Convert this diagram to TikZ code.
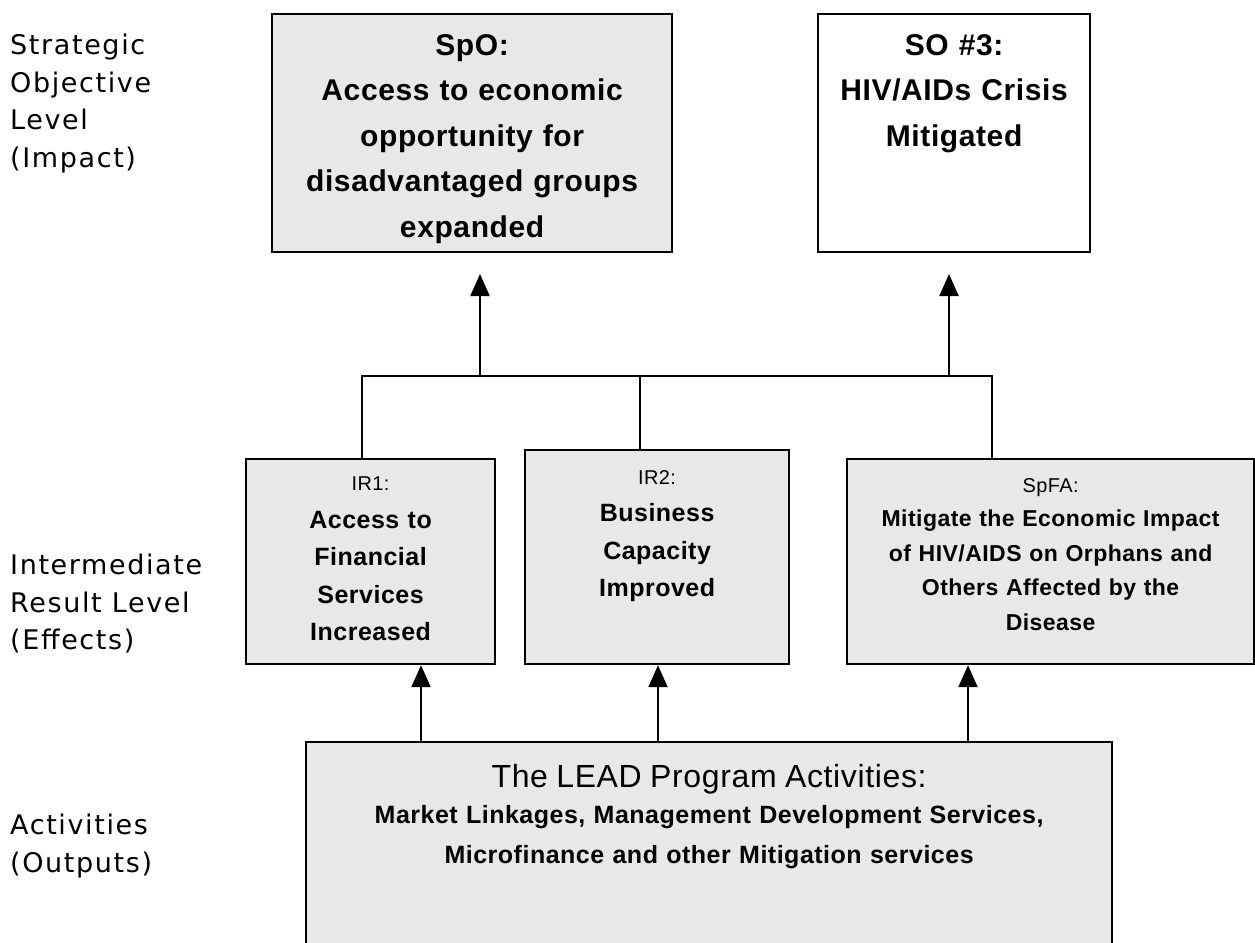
\documentclass[tikz,border=0pt]{standalone}
\usepackage{fontspec}
\setmainfont[LetterSpace=2]{Liberation Sans}
\newfontfamily\levelfont[LetterSpace=6]{DejaVu Sans}
\usetikzlibrary{arrows.meta,positioning}
\definecolor{BoxGray}{HTML}{E8E8E8}
\definecolor{Ink}{HTML}{000000}

\begin{document}
\begin{tikzpicture}[x=1pt, y=-1pt, every node/.style={inner sep=0pt},
  box/.style={draw=Ink, line width=2.2pt, fill=BoxGray, anchor=north west},
  txt/.style={align=center, text width=#1},
  lvl/.style={anchor=north west, align=left, font=\levelfont\fontsize{27}{37.5}\selectfont},
  link/.style={line width=2pt, color=Ink},
  arr/.style={link, -{Triangle[length=22pt, width=19pt]}}]
\useasboundingbox (0,0) rectangle (1255,942);
\clip (0,0) rectangle (1255,942);

% level labels
\node[lvl] (lvlso) at (10,34) {Strategic\\Objective\\Level\\(Impact)};
\node[lvl] (lvlir) at (10,554) {Intermediate\\Result Level\\(Effects)};
\node[lvl] (lvlact) at (10,814) {Activities\\(Outputs)};

% objectives
\node[box, minimum width=400, minimum height=238] (spo) at (271,13) {};
\node[box, fill=white, minimum width=272, minimum height=238] (so3) at (817,13) {};
\node[txt=390pt, font=\fontsize{30}{45.5}\selectfont\bfseries, below=21pt of spo.north] (spotxt) {SpO:\\Access to economic\\opportunity for\\disadvantaged groups\\expanded};
\node[txt=262pt, font=\fontsize{30}{45.5}\selectfont\bfseries, below=21pt of so3.north] (so3txt) {SO \#3:\\HIV/AIDs Crisis\\Mitigated};

% intermediate results
\node[box, minimum width=249, minimum height=205] (ir1) at (245,458) {};
\node[box, minimum width=264, minimum height=214] (ir2) at (524,449) {};
\node[box, minimum width=407, minimum height=205] (spfa) at (846,458) {};
\node[txt=240pt, font=\fontsize{25}{37.5}\selectfont\bfseries, below=19pt of ir1.north] (ir1txt) {{\mdseries\fontsize{20}{37.5}\selectfont IR1:}\\Access to\\Financial\\Services\\Increased};
\node[txt=255pt, font=\fontsize{25}{37.5}\selectfont\bfseries, below=21pt of ir2.north] (ir2txt) {{\mdseries\fontsize{20}{37.5}\selectfont IR2:}\\Business\\Capacity\\Improved};
\node[txt=400pt, font=\fontsize{23}{34.5}\selectfont\bfseries, below=20pt of spfa.north] (spfatxt) {{\mdseries\fontsize{20}{34.5}\selectfont SpFA:}\\Mitigate the Economic Impact\\of HIV/AIDS on Orphans and\\Others Affected by the\\Disease};

% activities
\node[box, minimum width=806, minimum height=260] (lead) at (305,741) {};
\node[txt=796pt, font=\fontsize{25}{40}\selectfont\bfseries, below=23pt of lead.north] (leadtxt) {{\mdseries\fontsize{32}{40}\selectfont The LEAD Program Activities:}\\[-4pt]Market Linkages, Management Development Services,\\Microfinance and other Mitigation services};

% connectors
\coordinate (bus1) at (362,376);
\coordinate (bus2) at (640,376);
\coordinate (bus3) at (992,376);
\coordinate (tip1) at (480,274);
\coordinate (tip2) at (949,274);
\draw[link] (ir1.north -| bus1) -- (bus1) -- (bus3) -- (spfa.north -| bus3);
\draw[link] (ir2.north -| bus2) -- (bus2);
\draw[arr] (tip1 |- bus1) -- (tip1);
\draw[arr] (tip2 |- bus1) -- (tip2);

\coordinate (up1) at (421,700);
\coordinate (up2) at (658,700);
\coordinate (up3) at (968,700);
\draw[arr] (lead.north -| up1) -- (ir1.south -| up1);
\draw[arr] (lead.north -| up2) -- (ir2.south -| up2);
\draw[arr] (lead.north -| up3) -- (spfa.south -| up3);
\end{tikzpicture}
\end{document}
